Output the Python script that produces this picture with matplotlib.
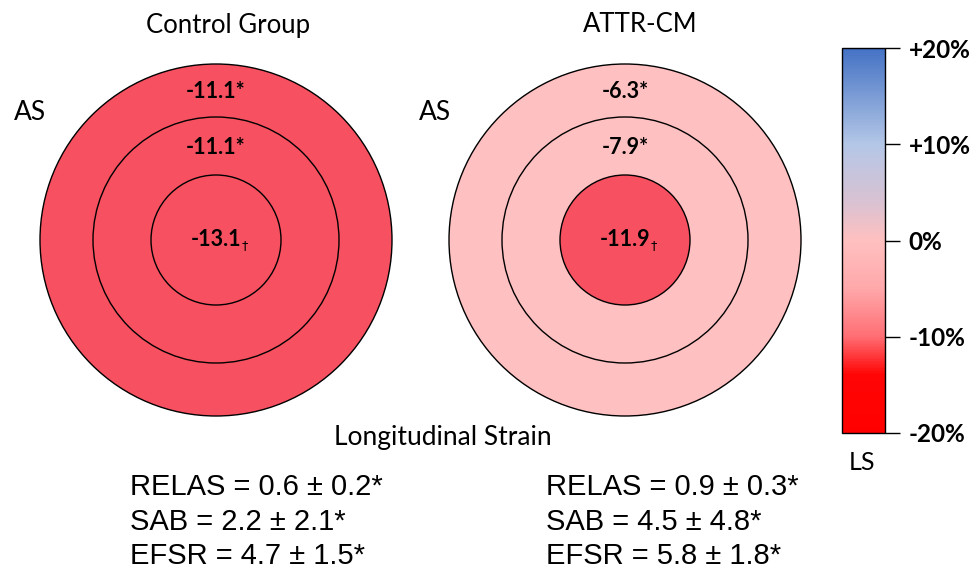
import matplotlib
matplotlib.use("Agg")
import matplotlib.pyplot as plt
from matplotlib.patches import Circle
from matplotlib.colors import LinearSegmentedColormap, Normalize
import matplotlib.colorbar as mcolorbar

# ---------------- data ----------------
groups = ["Control Group", "ATTR-CM"]
ring_names = ["outer", "middle", "inner"]
control_values = ["-11.1*", "-11.1*", "-13.1"]
attr_values = ["-6.3*", "-7.9*", "-11.9"]
inner_marks = ["†", "†"]
control_colors = ["#F75060", "#F75060", "#F75060"]
attr_colors = ["#FFC0C1", "#FFC0C1", "#F75060"]
control_stats = ["RELAS = 0.6 ± 0.2*", "SAB = 2.2 ± 2.1*", "EFSR = 4.7 ± 1.5*"]
attr_stats = ["RELAS = 0.9 ± 0.3*", "SAB = 4.5 ± 4.8*", "EFSR = 5.8 ± 1.8*"]
cbar_ticks = [-20, -10, 0, 10, 20]
cbar_ticklabels = ["-20%", "-10%", "0%", "+10%", "+20%"]
cbar_label = "LS"
center_title = "Longitudinal Strain"
side_label = "AS"

W, H = 977, 572
fig = plt.figure(figsize=(W / 100, H / 100), dpi=100)
ax = fig.add_axes([0, 0, 1, 1])
ax.set_xlim(0, W)
ax.set_ylim(H, 0)
ax.axis("off")

LABEL_FONT = "Lato"
STAT_FONT = "Liberation Sans"

radii = [176, 123, 65]
centers = [(216, 240), (625, 240)]
label_dy = [-149, -93, 0]
title_pos = [(228, 25), (640, 25)]
as_pos = [(30, 113), (435, 113)]

all_vals = [control_values, attr_values]
all_cols = [control_colors, attr_colors]

for gi, (cx, cy) in enumerate(centers):
    for ri, r in enumerate(radii):
        ax.add_patch(Circle((cx, cy), r, facecolor=all_cols[gi][ri],
                            edgecolor="black", lw=1.0, zorder=1 + ri))
    for ri, val in enumerate(all_vals[gi]):
        t = ax.text(cx, cy + label_dy[ri], val, ha="center", va="center",
                    fontsize=15.5, fontweight="bold", family=LABEL_FONT, zorder=10)
        if ri == 2:
            ax.annotate(inner_marks[gi], xy=(1.0, -0.05), xycoords=t,
                        ha="left", va="bottom", fontsize=9,
                        family="DejaVu Sans", zorder=10)
    ax.text(title_pos[gi][0], title_pos[gi][1], groups[gi], ha="center",
            va="center", fontsize=18.5, family=LABEL_FONT)
    ax.text(as_pos[gi][0], as_pos[gi][1], side_label, ha="center",
            va="center", fontsize=19, family=LABEL_FONT)

ax.text(443, 438, center_title, ha="center", va="center", fontsize=19,
        family=LABEL_FONT)

stat_x = [130, 546]
stat_y = [487, 522, 556]
for gi, stats in enumerate([control_stats, attr_stats]):
    for li, s in enumerate(stats):
        ax.text(stat_x[gi], stat_y[li], s, ha="left", va="center",
                fontsize=21, family=STAT_FONT)

# ---------------- colorbar ----------------
cmap = LinearSegmentedColormap.from_list("ls", [
    (0.00, "#FF0000"),
    (0.15, "#FF0505"),
    (0.25, "#FF6E74"),
    (0.375, "#FFA8AA"),
    (0.50, "#FFC0C0"),
    (0.60, "#D9C2D2"),
    (0.75, "#B4C7E7"),
    (1.00, "#4472C4"),
])
cax = fig.add_axes([842 / W, 1 - 433 / H, 43 / W, 385 / H])
cb = mcolorbar.ColorbarBase(cax, cmap=cmap, norm=Normalize(-20, 20),
                            orientation="vertical", ticks=cbar_ticks)
cb.set_ticklabels(cbar_ticklabels)
cb.outline.set_linewidth(1.0)
cax.tick_params(axis="y", length=11, width=1, pad=6, labelsize=17.5)
for lab in cax.get_yticklabels():
    lab.set_fontweight("bold")
    lab.set_family(LABEL_FONT)
ax.text(862, 463, cbar_label, ha="center", va="center", fontsize=18,
        family=LABEL_FONT)

fig.savefig("out.png", dpi=100)
